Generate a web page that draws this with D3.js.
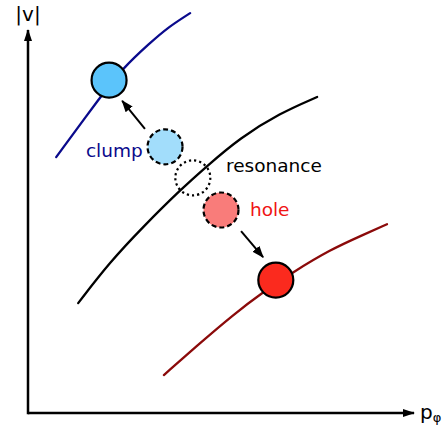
<!DOCTYPE html>
<html>
<head>
<meta charset="utf-8">
<script src="https://cdn.jsdelivr.net/npm/d3@7"></script>
<style>
  html, body { margin: 0; padding: 0; background: #fff; }
  svg { display: block; font-family: "DejaVu Sans", Verdana, sans-serif; }
</style>
</head>
<body>
<svg id="chart" width="447" height="428"></svg>
<script>
// ---- data (abstract phase-space units) ----
const curveClump = [[0.73,6.68],[1.87,8.25],[2.46,9.01],[3.16,9.66],[3.60,10.05],[4.20,10.44]];
const curveResonance = [[1.30,2.87],[2.12,3.94],[2.98,4.86],[3.94,5.82],[4.64,6.45],[5.49,7.18],[6.53,7.83],[7.49,8.25]];
const curveHole = [[3.52,0.99],[4.46,1.83],[5.31,2.56],[6.09,3.16],[6.87,3.68],[7.82,4.26],[8.68,4.65],[9.30,4.93]];

const circleNames = ["clumpFinal","clumpStart","resonance","holeStart","holeFinal"];
const circleX = [2.10, 3.55, 4.27, 5.00, 6.42];
const circleY = [8.69, 6.95, 6.14, 5.30, 3.47];

const arrowNames = ["clump","hole"];
const arrowFrom = [[3.03,7.42],[5.52,4.75]];
const arrowTo = [[2.44,8.15],[6.09,4.07]];

const labelTexts = ["clump","resonance","hole"];
const labelX = [1.50, 5.13, 5.75];
const labelY = [6.68, 6.29, 5.14];

// ---- styles ----
const curveColors = ["#0a0a8c", "#000000", "#8b0a0a"];
const circleStyle = {
  clumpFinal: {fill:"#5bc4fb", dash:null},
  clumpStart: {fill:"#a2ddfb", dash:"5,3"},
  resonance: {fill:"none", dash:"2.2,3"},
  holeStart: {fill:"#f97c7a", dash:"5,3"},
  holeFinal: {fill:"#fb2a1e", dash:null}
};
const labelColors = ["#0a0a8c", "#000000", "#f01414"];

const svg = d3.select("#chart");
const x = d3.scaleLinear().domain([0,10]).range([28,414]);
const y = d3.scaleLinear().domain([0,10]).range([413,30]);

const defs = svg.append("defs");
defs.append("marker").attr("id","axisHead")
  .attr("markerUnits","userSpaceOnUse")
  .attr("viewBox","0 -5 12 10").attr("refX",11).attr("refY",0)
  .attr("markerWidth",12).attr("markerHeight",10).attr("orient","auto")
  .append("path").attr("d","M0,-4L12,0L0,4Z").attr("fill","#000");
defs.append("marker").attr("id","head")
  .attr("markerUnits","userSpaceOnUse")
  .attr("viewBox","0 -5 12 10").attr("refX",11).attr("refY",0)
  .attr("markerWidth",12).attr("markerHeight",10).attr("orient","auto")
  .append("path").attr("d","M0,-4.5L12,0L0,4.5Z").attr("fill","#000");

// axes
svg.append("line")
  .attr("x1",x(0)).attr("y1",y(0)).attr("x2",x(10)).attr("y2",y(0))
  .attr("stroke","#000").attr("stroke-width",2.5).attr("marker-end","url(#axisHead)");
svg.append("line")
  .attr("x1",x(0)).attr("y1",y(0)+1.2).attr("x2",x(0)).attr("y2",y(10))
  .attr("stroke","#000").attr("stroke-width",2.5).attr("marker-end","url(#axisHead)");

// axis labels
svg.append("text").attr("x",x(0)).attr("y",21).attr("text-anchor","middle")
  .attr("font-size",20).attr("fill","#000").text("|v|");
const pl = svg.append("text").attr("x",x(10)+6).attr("y",y(0)+6)
  .attr("font-size",20).attr("fill","#000");
pl.append("tspan").text("p");
pl.append("tspan").attr("font-size",13).attr("dy",3).text("φ");

// curves
const line = d3.line().x(d=>x(d[0])).y(d=>y(d[1])).curve(d3.curveBasis);
[curveClump, curveResonance, curveHole].forEach((c,i)=>{
  svg.append("path").datum(c).attr("d",line)
    .attr("fill","none").attr("stroke",curveColors[i]).attr("stroke-width",2.3)
    .attr("stroke-linecap","round");
});

// circles
circleNames.forEach((n,i)=>{
  const st = circleStyle[n];
  svg.append("circle").attr("cx",x(circleX[i])).attr("cy",y(circleY[i])).attr("r",17.5)
    .attr("fill",st.fill).attr("stroke","#000").attr("stroke-width",2.2)
    .attr("stroke-dasharray",st.dash);
});

// arrows
arrowNames.forEach((n,i)=>{
  svg.append("line")
    .attr("x1",x(arrowFrom[i][0])).attr("y1",y(arrowFrom[i][1]))
    .attr("x2",x(arrowTo[i][0])).attr("y2",y(arrowTo[i][1]))
    .attr("stroke","#000").attr("stroke-width",2).attr("marker-end","url(#head)");
});

// labels
labelTexts.forEach((t,i)=>{
  svg.append("text").attr("x",x(labelX[i])).attr("y",y(labelY[i]))
    .attr("font-size",18.5).attr("fill",labelColors[i]).text(t);
});
</script>
</body>
</html>
